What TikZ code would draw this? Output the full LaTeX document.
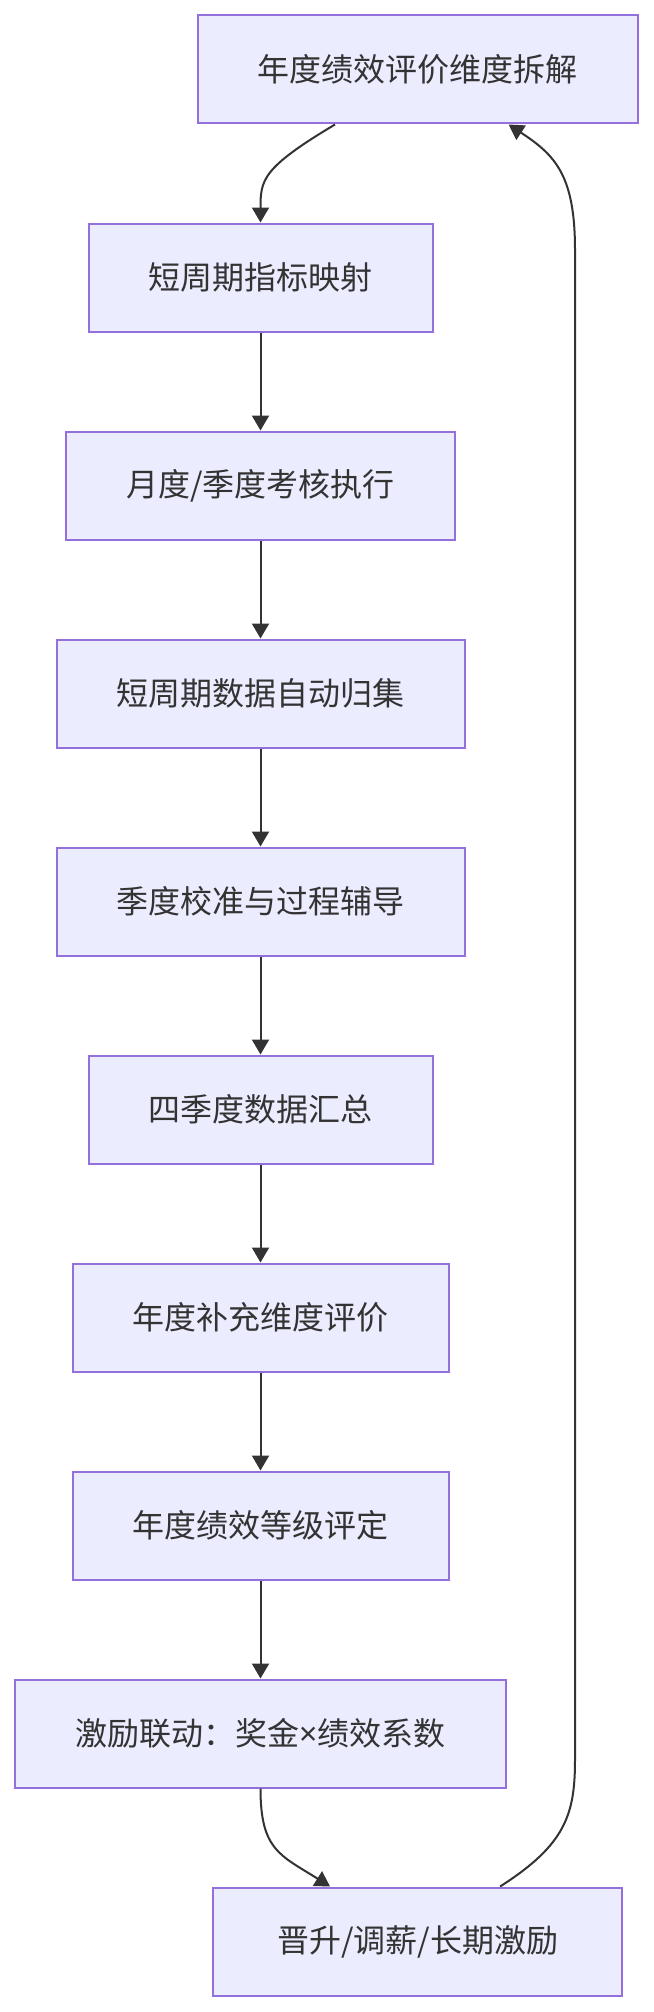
\documentclass[tikz,border=0pt]{standalone}
\usepackage{fontspec}
\setmainfont{Noto Sans CJK SC}
\newfontfamily\latinfont{Noto Sans}
\usetikzlibrary{arrows.meta}
\definecolor{boxfill}{HTML}{ECECFF}
\definecolor{boxline}{HTML}{9370DB}
\definecolor{ink}{HTML}{333333}
\begin{document}
\begin{tikzpicture}[x=1pt, y=-1pt,
  stepbox/.style={draw=boxline, fill=boxfill, line width=2pt, minimum height=108pt, inner xsep=60pt, text=ink, font=\fontsize{32}{38}\selectfont},
  flow/.style={draw=ink, line width=2pt, -{Triangle[width=17pt,length=15pt]}}]
\useasboundingbox (0,0) rectangle (653,2012);
% steps
\node[stepbox] (dims) at (417.6,69.5) {年度绩效评价维度拆解};
\node[stepbox] (mapping) at (260.5,277.5) {短周期指标映射};
\node[stepbox] (execute) at (260.5,485.5) {月度/季度考核执行};
\node[stepbox] (collect) at (260.5,693.5) {短周期数据自动归集};
\node[stepbox] (calibrate) at (260.5,901.5) {季度校准与过程辅导};
\node[stepbox] (summary) at (260.5,1109.5) {四季度数据汇总};
\node[stepbox] (supplement) at (260.5,1317.5) {年度补充维度评价};
\node[stepbox] (grading) at (260.5,1525.5) {年度绩效等级评定};
\node[stepbox, minimum width=490pt] (reward) at (260.5,1733.5) {激励联动：奖金{\latinfont ×}绩效系数};
\node[stepbox, minimum width=409pt] (promote) at (417.6,1941.5) {晋升/调薪/长期激励};
% straight links
\foreach \a/\b in {mapping/execute, execute/collect, collect/calibrate, calibrate/summary, summary/supplement, supplement/grading, grading/reward}
  \draw[flow] (\a) -- (\b);
% curved links
\draw[flow] ([xshift=-82.6pt]dims.south) .. controls (262,168) and (260.5,180) .. (mapping.north);
\draw[flow] (reward.south) .. controls (260.5,1850) and (280,1855) .. ([xshift=-87.5pt]promote.north);
\draw[flow] ([xshift=82.5pt]promote.north) .. controls (565,1845) and (575,1815) .. (575,1760) -- (575,250) .. controls (575,175) and (555,155) .. ([xshift=91pt]dims.south);
\end{tikzpicture}
\end{document}
